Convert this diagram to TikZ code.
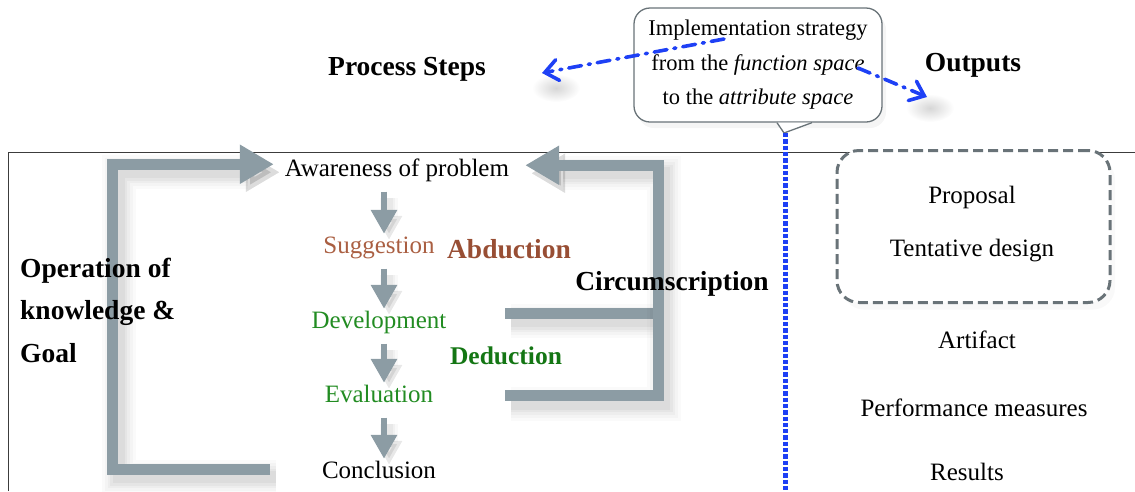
\documentclass[tikz,border=0pt]{standalone}
\usepackage{fontspec}
\setmainfont{Liberation Serif}
\usetikzlibrary{arrows.meta,calc}

\definecolor{loopgray}{RGB}{140,156,164}
\definecolor{linkblue}{RGB}{30,64,245}
\definecolor{boxgray}{RGB}{105,115,120}
\definecolor{sugbrown}{RGB}{170,95,66}
\definecolor{abdbrown}{RGB}{152,78,52}
\definecolor{devgreen}{RGB}{34,140,34}
\definecolor{dedgreen}{RGB}{20,118,20}
\definecolor{framegray}{RGB}{60,60,60}

\pgfdeclarelayer{bg}
\pgfsetlayers{bg,main}

\tikzset{
  txt/.style={inner sep=0pt, anchor=base, text height=17pt, text depth=5.5pt,
    font=\fontsize{25}{30}\selectfont},
  label/.style={inner sep=0pt, anchor=base, font=\fontsize{27.5}{33}\selectfont\bfseries},
  shadowlayer/.style 2 args={preaction={draw=black, opacity=#2, line width=#1,
    transform canvas={shift={(6pt,-8pt)}}}},
  barshadow/.style={
    shadowlayer={34pt}{.018}, shadowlayer={28pt}{.022}, shadowlayer={22pt}{.028},
    shadowlayer={17pt}{.035}, shadowlayer={12pt}{.04}},
  smallshadow/.style={
    preaction={draw=black, opacity=.025, line width=18pt, transform canvas={shift={(5pt,-6pt)}}},
    preaction={draw=black, opacity=.03, line width=12pt, transform canvas={shift={(5pt,-6pt)}}},
    preaction={draw=black, opacity=.035, line width=7pt, transform canvas={shift={(5pt,-6pt)}}}},
  loopbar/.style={draw=loopgray, line width=11pt, line join=miter, barshadow},
  looparrow/.style={loopbar, -{Triangle[length=34pt,width=37pt]}},
  stepdown/.style={draw=loopgray, line width=6.5pt, smallshadow,
    -{Triangle[length=24pt,width=25pt]}, shorten <=10pt, shorten >=2pt},
  linkarrow/.style={draw=linkblue, line width=3.6pt, line cap=round,
    dash pattern=on 13pt off 7pt on 2pt off 7pt,
    -{Straight Barb[length=13pt,width=21pt,line cap=round]}},
  callout/.style={draw=boxgray, line width=1.3pt, rounded corners=16pt, fill=white,
    minimum width=248pt, minimum height=114pt, align=center, inner sep=0pt,
    font=\fontsize{22.5}{34.5}\selectfont,
    preaction={fill=black, opacity=.04, transform canvas={shift={(4pt,-6pt)}}}},
  outbox/.style={draw=boxgray, line width=3pt, dash pattern=on 10pt off 5pt,
    rounded corners=22pt, minimum width=273pt, minimum height=152pt, inner sep=0pt,
    preaction={fill=black, opacity=.025, transform canvas={shift={(5pt,-7pt)}}},
    preaction={fill=white}},
  dotline/.style={draw=linkblue, line width=5pt, dash pattern=on 4.3pt off 2pt}
}

\begin{document}
\begin{tikzpicture}[x=1pt,y=-1pt]
\useasboundingbox (0,0) rectangle (1135,491);

% headings
\node[label] (steps) at (407,75) {Process Steps};
\node[label] (outputs) at (973,71) {Outputs};

% outputs side
\node[outbox] (group) at (973.5,226.5) {};
\node[txt] (proposal) at (972,203) {Proposal};
\node[txt] (tentative) at (972,256) {Tentative design};
\node[txt] (artifact) at (977,348) {Artifact};
\node[txt] (perf) at (974,416) {Performance measures};
\node[txt] (results) at (967,480) {Results};

% process steps
\node[txt] (aware) at (397,176) {Awareness of problem};
\node[txt, text=sugbrown] (sugg) at (379,253) {Suggestion};
\node[txt, text=devgreen] (dev) at (379,328) {Development};
\node[txt, text=devgreen] (eval) at (379,402) {Evaluation};
\node[txt] (concl) at (379,478) {Conclusion};

\node[label, text=abdbrown] (abd) at (509,258) {Abduction};
\node[label, text=dedgreen, font=\fontsize{25.5}{30}\selectfont\bfseries] (ded) at (506,364) {Deduction};
\node[label] (circ) at (672,290) {Circumscription};
\node[inner sep=0pt, anchor=west, align=left, font=\fontsize{27.5}{42.5}\selectfont\bfseries]
  (opk) at (20,310) {Operation of\\knowledge \&\\Goal};

\begin{pgfonlayer}{bg}
% frame of the lower panel
\draw[framegray, line width=1pt] (8,491) -- (8,152) -- (1135,152);

% step arrows
\coordinate (ax) at (384,0);
\draw[stepdown] (aware.south -| ax) -- (sugg.north -| ax);
\draw[stepdown] (sugg.south -| ax) -- (dev.north -| ax);
\draw[stepdown] (dev.south -| ax) -- (eval.north -| ax);
\draw[stepdown] (eval.south -| ax) -- (concl.north -| ax);

% feedback loops
\coordinate (lstart) at (270,469);
\coordinate (lcol) at (112.5,300);
\draw[looparrow, shorten >=11pt] (lstart) -| (lcol) |- ([yshift=6pt]aware.west);

\coordinate (rstart) at (505,395.5);
\coordinate (rmid) at (505,313);
\coordinate (rcol) at (658,300);
\draw[loopbar] (rmid) -- (rmid -| rcol);
\draw[looparrow, shorten >=16pt] (rstart) -| (rcol) |- ([yshift=5pt]aware.east);
\end{pgfonlayer}

% implementation strategy callout
\node[callout] (impl) at (758,65)
  {Implementation strategy\\from the \textit{function space}\\to the \textit{attribute space}};
\coordinate (ptip) at (784,133);
\fill[white] ([xshift=19pt]impl.south) -- (ptip) -- ([xshift=54pt]impl.south) -- cycle;
\draw[boxgray, line width=1.3pt, line join=round]
  ([xshift=19pt]impl.south) -- (ptip) -- ([xshift=54pt]impl.south);

% boundary between function and attribute space
\coordinate (vbot) at (785,491);
\draw[dotline] (ptip -| vbot) -- (vbot);

% soft shadows under the link arrowheads
\shade[inner color=black!16, outer color=white] (556,88) ellipse (24 and 14);
\shade[inner color=black!16, outer color=white] (930,108) ellipse (24 and 14);

% links from the callout to both columns
\coordinate (l1s) at (724,39);
\coordinate (l1e) at (542,73);
\coordinate (l2s) at (858,68);
\coordinate (l2e) at (927,97);
\draw[linkarrow] (l1s) -- (l1e);
\draw[linkarrow] (l2s) -- (l2e);
\end{tikzpicture}
\end{document}
